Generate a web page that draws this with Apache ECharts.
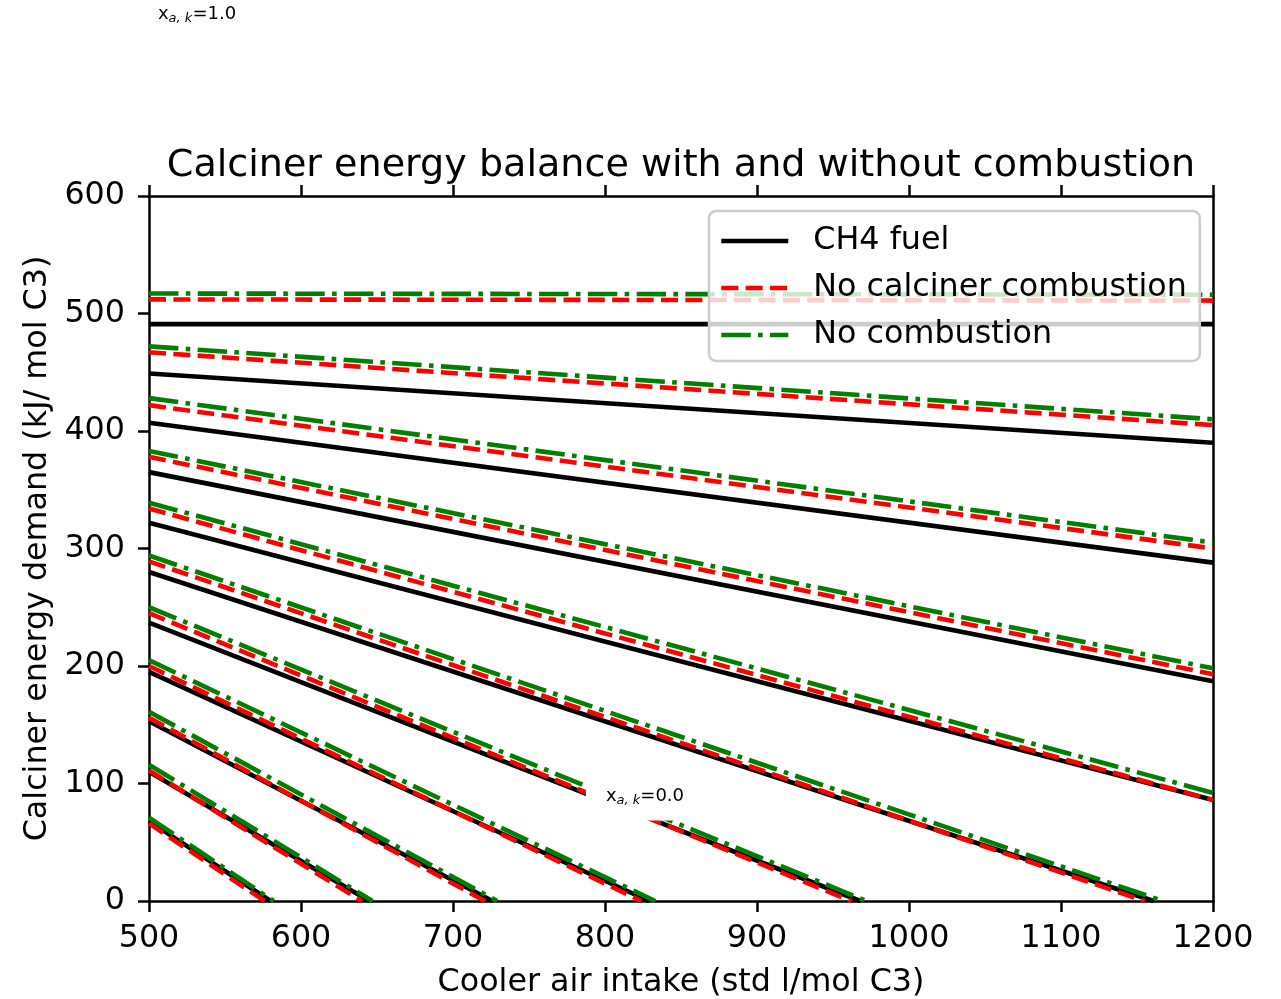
<!DOCTYPE html>
<html><head><meta charset="utf-8">
<script src="https://cdn.jsdelivr.net/npm/echarts@6/dist/echarts.min.js"></script>
<style>html,body{margin:0;padding:0;background:#fff}#c{width:1281px;height:999px}</style>
</head><body><div id="c"></div>
<script>
// ---- data ----
const xTicks = [500, 600, 700, 800, 900, 1000, 1100, 1200];
const yTicks = [0, 100, 200, 300, 400, 500, 600];
const xParam = ['1.0', '0.0'];   // x_{a,k} labels shown on chart
const seriesNames = ['CH4 fuel', 'No calciner combustion', 'No combustion'];

// CH4 fuel: value at 500 and end point of each line
const ch4Start = [491, 449, 407, 365, 322, 280, 237, 195, 153, 110, 68];
const ch4End = [[1200,491],[1200,390],[1200,288],[1200,187],[1200,86],[1161,0],[968,0],[829,0],[726,0],[645,0],[580,0]];
// No calciner combustion
const ncStart = [512, 467, 422, 378, 334, 289, 245, 200, 156, 111, 66];
const ncEnd = [[1200,511],[1200,405],[1200,300],[1200,193],[1200,86],[1155,0],[962,0],[824,0],[721,0],[640,0],[576,0]];
// No combustion
const noStart = [517, 472, 428, 383, 339, 294, 250, 205, 161, 116, 71];
const noEnd = [[1200,516],[1200,410],[1200,305],[1200,198],[1200,92],[1167,0],[972,0],[833,0],[729,0],[647,0],[582,0]];

// ---- chart ----
const FONT = 'DejaVu Sans';
const FS = 31.75;
const LW = 4.6;
const chart = echarts.init(document.getElementById('c'), null, {renderer: 'canvas'});

const families = [
  {name: seriesNames[0], start: ch4Start, end: ch4End, color: '#000000', type: 'solid'},
  {name: seriesNames[1], start: ncStart, end: ncEnd, color: '#ff0000', type: [3.7*LW, 1.6*LW]},
  {name: seriesNames[2], start: noStart, end: noEnd, color: '#008000', type: [6.4*LW, 1.6*LW, 1.0*LW, 1.6*LW]}
];
const series = [];
for (let i = 0; i < ch4Start.length; i++) {
  families.forEach((f, k) => {
    series.push({
      type: 'line', name: f.name, xAxisIndex: 0, yAxisIndex: 0,
      data: [[xTicks[0], f.start[i]], f.end[i]],
      symbol: 'none', showSymbol: false, silent: true,
      z: 2 + k,
      lineStyle: {color: f.color, width: LW, type: f.type, cap: 'butt'},
      itemStyle: {color: f.color},
      emphasis: {disabled: true}
    });
  });
}

const axisLineStyle = {color: '#000', width: 2.5};
const plain = v => String(v);
const option = {
  animation: false,
  backgroundColor: '#fff',
  grid: {left: 149, top: 196, width: 1064, height: 705, containLabel: false, outerBoundsMode: 'none'},
  xAxis: [{
    type: 'value', min: xTicks[0], max: xTicks[xTicks.length-1], interval: 100,
    name: 'Cooler air intake (std l/mol C3)', nameLocation: 'middle', nameGap: 66,
    nameTextStyle: {fontSize: FS, color: '#000', fontFamily: FONT},
    axisLine: {onZero: false, lineStyle: axisLineStyle},
    axisTick: {length: 11, lineStyle: axisLineStyle},
    axisLabel: {fontSize: FS, color: '#000', fontFamily: FONT, margin: 22, formatter: plain},
    splitLine: {show: false}
  }, {
    type: 'value', position: 'top', min: xTicks[0], max: xTicks[xTicks.length-1], interval: 100,
    axisLine: {onZero: false, lineStyle: axisLineStyle},
    axisTick: {length: 11, lineStyle: axisLineStyle},
    axisLabel: {show: false}, splitLine: {show: false}
  }],
  yAxis: [{
    type: 'value', min: yTicks[0], max: yTicks[yTicks.length-1], interval: 100,
    name: 'Calciner energy demand (kJ/ mol C3)', nameLocation: 'middle', nameGap: 95,
    nameTextStyle: {fontSize: FS, color: '#000', fontFamily: FONT},
    axisLine: {show: true, onZero: false, lineStyle: axisLineStyle},
    axisTick: {show: true, length: 11, lineStyle: axisLineStyle},
    axisLabel: {fontSize: FS, color: '#000', fontFamily: FONT, margin: 24, formatter: plain, padding: [5, 0, 0, 0]},
    splitLine: {show: false}
  }, {
    type: 'value', position: 'right', min: yTicks[0], max: yTicks[yTicks.length-1], interval: 100,
    axisLine: {show: true, onZero: false, lineStyle: axisLineStyle},
    axisTick: {show: false}, axisLabel: {show: false}, splitLine: {show: false}
  }],
  legend: {
    data: seriesNames, orient: 'vertical', left: 709, top: 211,
    padding: [14, 13, 10, 10], itemWidth: 67, itemHeight: 32, itemGap: 15,
    textStyle: {fontSize: FS, color: '#000', fontFamily: FONT, padding: [0, 0, 0, 20]},
    itemStyle: {opacity: 0},
    lineStyle: {width: LW},
    backgroundColor: 'rgba(255,255,255,0.8)', borderColor: '#cccccc', borderWidth: 2.5, borderRadius: 7,
    selectedMode: false, z: 10
  },
  series: series
};
chart.setOption(option);

function labelText(v) { return 'x{s|a, k}=' + v; }
const rich = {s: {fontSize: 13, fontStyle: 'italic', fontFamily: FONT, fill: '#000', padding: [10, 0, 0, 0]}};
const p1 = chart.convertToPixel({xAxisIndex: 0, yAxisIndex: 0}, [531.6, 755]);
const p0 = chart.convertToPixel({xAxisIndex: 0, yAxisIndex: 0}, [826.3, 89.4]);
chart.setOption({
  graphic: [
    {type: 'text', x: 681, y: 166, z: 100, style: {text: 'Calciner energy balance with and without combustion',
      font: '38.1px "DejaVu Sans"', fill: '#000', align: 'center', verticalAlign: 'middle'}},
    {type: 'text', x: p1[0], y: p1[1], z: 100, style: {text: labelText(xParam[0]), rich: rich,
      font: '18px "DejaVu Sans"', fill: '#000', align: 'center', verticalAlign: 'middle',
      backgroundColor: '#fff', padding: [13, 20, 13, 20]}},
    {type: 'text', x: p0[0], y: p0[1], z: 100, style: {text: labelText(xParam[1]), rich: rich,
      font: '18px "DejaVu Sans"', fill: '#000', align: 'center', verticalAlign: 'middle',
      backgroundColor: '#fff', padding: [13, 20, 13, 20]}}
  ]
});
</script></body></html>
